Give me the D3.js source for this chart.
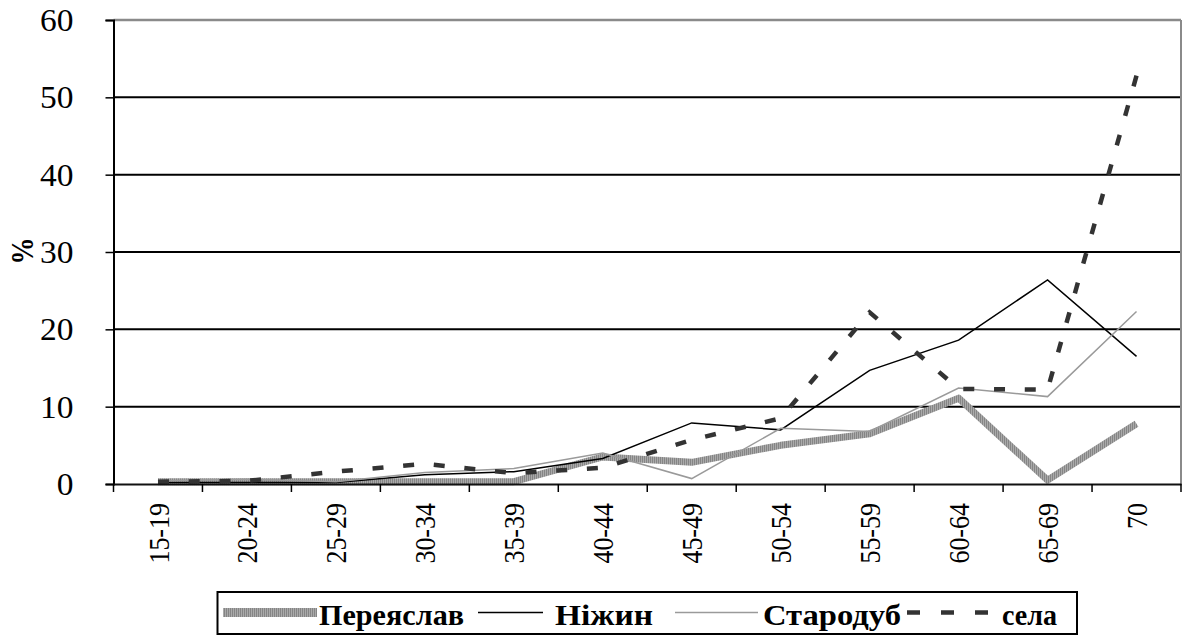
<!DOCTYPE html>
<html>
<head>
<meta charset="utf-8">
<script src="https://cdn.jsdelivr.net/npm/d3@7"></script>
<style>
  html, body { margin: 0; padding: 0; background: #fff; }
  svg { display: block; }
</style>
</head>
<body>
<svg id="chart" width="1184" height="640"></svg>
<script>
// Age groups along the horizontal axis
const categories = ["15-19","20-24","25-29","30-34","35-39","40-44","45-49","50-54","55-59","60-64","65-69","70"];

// Share (%) per age group for each place
const pereiaslav = [0.3, 0.3, 0.3, 0.3, 0.3, 3.5, 2.8, 5.0, 6.5, 11.1, 0.5, 7.8];
const nizhyn     = [0.2, 0.2, 0.2, 1.2, 1.6, 3.3, 7.9, 7.0, 14.7, 18.6, 26.4, 16.5];
const starodub   = [0.4, 0.6, 0.3, 1.5, 2.0, 4.0, 0.7, 7.2, 6.8, 12.4, 11.3, 22.3];
const sela       = [0.3, 0.4, 1.6, 2.6, 1.4, 2.1, 5.7, 8.5, 22.2, 12.3, 12.2, 52.8];

const seriesNames = ["Переяслав", "Ніжин", "Стародуб", "села"];

// Value axis ticks
const yTicks = [0, 10, 20, 30, 40, 50, 60];

const svg = d3.select("#chart");
const serif = "'Liberation Serif', 'Times New Roman', serif";
const stretch = 1.16; // text is set slightly wide

const plot = { left: 113.5, right: 1181, top: 20, bottom: 484 };

const x = d3.scaleBand().domain(categories).range([plot.left, plot.right]).padding(0);
const y = d3.scaleLinear().domain([0, 60]).range([plot.bottom, plot.top]);
const cx = c => x(c) + x.bandwidth() / 2;

// Stippled fill for the heavy grey line
const defs = svg.append("defs");
const pat = defs.append("pattern")
  .attr("id", "stipple").attr("patternUnits", "userSpaceOnUse")
  .attr("width", 2).attr("height", 2);
pat.append("rect").attr("width", 2).attr("height", 2).attr("fill", "#aaaaaa");
pat.append("rect").attr("width", 1).attr("height", 2).attr("fill", "#858585");

// Horizontal gridlines
svg.append("g")
  .selectAll("line")
  .data(yTicks.filter(t => t > 0 && t < 60))
  .join("line")
  .attr("x1", plot.left).attr("x2", plot.right)
  .attr("y1", d => y(d)).attr("y2", d => y(d))
  .attr("stroke", "#000").attr("stroke-width", 2);

// Plot-area frame on top and right
svg.append("line")
  .attr("x1", plot.left).attr("x2", plot.right)
  .attr("y1", y(60)).attr("y2", y(60))
  .attr("stroke", "#8a8a8a").attr("stroke-width", 2.5);
svg.append("line")
  .attr("x1", plot.right).attr("x2", plot.right)
  .attr("y1", y(60)).attr("y2", plot.bottom)
  .attr("stroke", "#8a8a8a").attr("stroke-width", 2);

// Series lines
const line = d3.line().x((d, i) => cx(categories[i])).y(d => y(d));

const styles = [
  { data: pereiaslav, stroke: "url(#stipple)", width: 7, dash: null, join: "round" },
  { data: nizhyn, stroke: "#000", width: 1.5, dash: null, join: "miter" },
  { data: starodub, stroke: "#9a9a9a", width: 1.5, dash: null, join: "miter" },
  { data: sela, stroke: "#333", width: 4.5, dash: 11, join: "miter" }
];

const paths = svg.append("g")
  .selectAll("path")
  .data(styles)
  .join("path")
  .attr("d", d => line(d.data))
  .attr("fill", "none")
  .attr("stroke", d => d.stroke)
  .attr("stroke-width", d => d.width)
  .attr("stroke-linejoin", d => d.join);

// Dashed line: fit the period so the path starts and ends on a dash
paths.filter(d => d.dash).each(function(d) {
  const L = this.getTotalLength();
  const n = Math.round((L - d.dash) / 31);
  const period = (L - d.dash) / n;
  d3.select(this).attr("stroke-dasharray", `${d.dash},${period - d.dash}`);
});

// Y axis
const yAxis = svg.append("g")
  .attr("transform", `translate(${plot.left},0)`)
  .call(d3.axisLeft(y).tickValues(yTicks).tickSize(8).tickPadding(0).tickFormat(d3.format("d")));
yAxis.select(".domain").attr("stroke", "#000").attr("stroke-width", 2);
yAxis.selectAll(".tick line").attr("stroke", "#000").attr("stroke-width", 1.5);
yAxis.selectAll("text")
  .attr("font-family", serif).attr("font-size", 31).attr("fill", "#000")
  .attr("x", 0).attr("dy", "0.34em")
  .attr("transform", "translate(-40,0) scale(1.08,1)");

// X axis: boundary ticks between groups, labels centred on groups
const xAxis = svg.append("g")
  .attr("transform", `translate(0,${plot.bottom})`)
  .call(d3.axisBottom(x).tickSize(0).tickSizeOuter(0));
xAxis.select(".domain").attr("stroke", "#111").attr("stroke-width", 2);
xAxis.selectAll("text")
  .attr("font-family", serif).attr("font-size", 26).attr("fill", "#000")
  .attr("text-anchor", "end")
  .attr("transform", `scale(${stretch},1) rotate(-90)`)
  .attr("x", -19).attr("y", 0).attr("dy", "0.35em");

const bounds = categories.map(c => x(c)).concat([plot.right]);
svg.append("g")
  .selectAll("line")
  .data(bounds)
  .join("line")
  .attr("x1", d => d).attr("x2", d => d)
  .attr("y1", plot.bottom).attr("y2", plot.bottom + 8)
  .attr("stroke", "#000").attr("stroke-width", 1.5);

// Axis title
svg.append("text")
  .attr("transform", `translate(22,251) scale(${stretch},1) rotate(-90)`)
  .attr("text-anchor", "middle").attr("dy", "0.35em")
  .attr("font-family", serif).attr("font-size", 27).attr("font-weight", "bold")
  .text("%");

// Legend
const legend = svg.append("g");
legend.append("rect")
  .attr("x", 217.5).attr("y", 592).attr("width", 859.5).attr("height", 42)
  .attr("fill", "#fff").attr("stroke", "#000").attr("stroke-width", 2);

// symbol start/end, label start and label width for each entry
const legendLayout = [
  { x0: 223, x1: 317, tx: 319, tw: 145 },
  { x0: 478, x1: 543, tx: 555, tw: 98 },
  { x0: 675, x1: 758, tx: 763, tw: 138 },
  { x0: 907, x1: 988, tx: 1002, tw: 55 }
];
const legendY = 612.5;

legendLayout.forEach((l, i) => {
  const s = styles[i];
  const seg = legend.append("line")
    .attr("x1", l.x0).attr("x2", l.x1)
    .attr("y1", legendY).attr("y2", legendY)
    .attr("stroke", s.stroke)
    .attr("stroke-width", i === 0 ? 9 : s.width);
  if (s.dash) seg.attr("stroke-dasharray", "13,21").attr("stroke-width", 4.5);
  legend.append("text")
    .attr("x", l.tx).attr("y", 625)
    .attr("textLength", l.tw).attr("lengthAdjust", "spacingAndGlyphs")
    .attr("font-family", serif).attr("font-size", 30).attr("font-weight", "bold")
    .text(seriesNames[i]);
});
</script>
</body>
</html>
